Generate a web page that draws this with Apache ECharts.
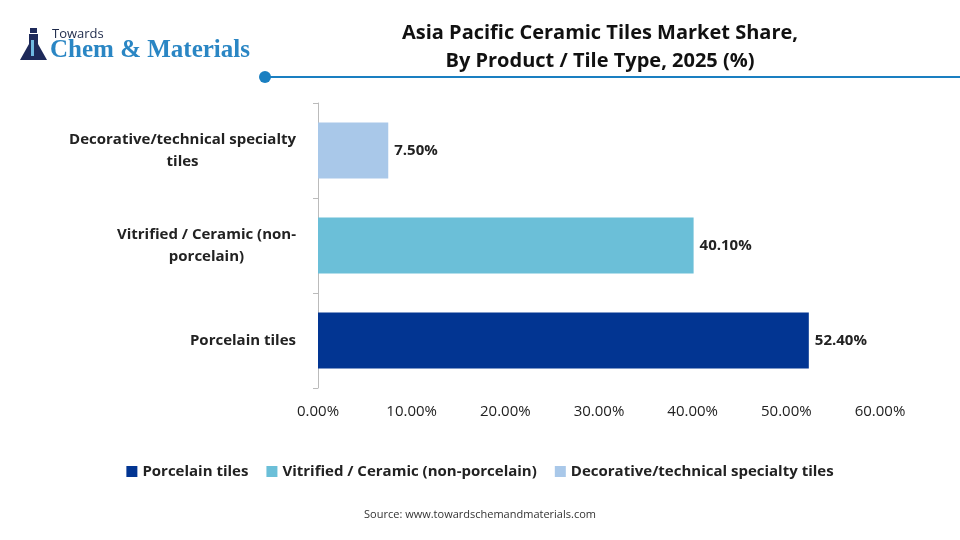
<!DOCTYPE html>
<html><head><meta charset="utf-8">
<script src="https://cdn.jsdelivr.net/npm/echarts@6/dist/echarts.min.js"></script>
<style>html,body{margin:0;padding:0;background:#fff}#c{width:960px;height:540px}</style>
</head><body><div id="c"></div>
<script>
const categories = ['Porcelain tiles', 'Vitrified / Ceramic (non-porcelain)', 'Decorative/technical specialty tiles'];
const axisLabels = ['Porcelain tiles', 'Vitrified / Ceramic (non-\nporcelain)', 'Decorative/technical specialty\ntiles'];
const values = [52.4, 40.1, 7.5];
const colors = ['#023592', '#6bbfd8', '#a9c8e9'];

const chart = echarts.init(document.getElementById('c'));
const series = categories.map((name, i) => ({
  name, type: 'bar', stack: 'a', barWidth: 56,
  itemStyle: { color: colors[i] },
  data: values.map((v, j) => j === i ? v : null),
  label: { show: true, position: 'right', distance: 6, formatter: p => p.value.toFixed(2) + '%',
    fontFamily: 'Open Sans', fontWeight: 'bold', fontSize: 15, color: '#222' }
}));
const lblStyle = { fontFamily: 'Open Sans', fontWeight: 'bold', fontSize: 15, color: '#222', lineHeight: 22, align: 'center' };
chart.setOption({
  animation: false,
  title: { text: 'Asia Pacific Ceramic Tiles Market Share,\nBy Product / Tile Type, 2025 (%)', left: 595, top: 14, textAlign: 'center',
    textStyle: { fontFamily: 'Open Sans', fontWeight: 'bold', fontSize: 20, lineHeight: 28, color: '#111' } },
  grid: { left: 318, right: 80, top: 103, bottom: 152 },
  xAxis: { type: 'value', min: 0, max: 60, interval: 10, splitLine: { show: false },
    axisLine: { show: false }, axisTick: { show: false },
    axisLabel: { formatter: v => v.toFixed(2) + '%', fontFamily: 'Open Sans', fontSize: 15, color: '#222', margin: 16 } },
  yAxis: { type: 'category', data: axisLabels,
    axisLine: { show: true, lineStyle: { color: '#bbb' } },
    axisTick: { show: true, length: 5, lineStyle: { color: '#bbb' } },
    axisLabel: { formatter: v => v.split('\n').map(s => '{c|' + s + '}').join('\n'),
      rich: { c: lblStyle }, fontFamily: 'Open Sans', fontWeight: 'bold', fontSize: 15, color: '#222', margin: 22, lineHeight: 22 } },
  legend: { bottom: 56, left: 'center', itemWidth: 11, itemHeight: 11, itemGap: 18, icon: 'rect',
    textStyle: { fontFamily: 'Open Sans', fontWeight: 'bold', fontSize: 15, color: '#222' } },
  series,
  graphic: [
    { type: 'text', left: 'center', top: 509, style: { text: 'Source: www.towardschemandmaterials.com', font: '11px "Open Sans"', fill: '#333' } },
    { type: 'line', shape: { x1: 265, y1: 77, x2: 960, y2: 77 }, style: { stroke: '#1a7fc1', lineWidth: 2 } },
    { type: 'circle', shape: { cx: 265, cy: 77, r: 6 }, style: { fill: '#1a7fc1' } },
    { type: 'text', left: 52, top: 28, style: { text: 'Towards', font: '13px "Open Sans"', fill: '#1e2a4a' } },
    { type: 'text', left: 50, top: 38, style: { text: 'Chem & Materials', font: 'bold 25px "Liberation Serif"', fill: '#2a86c4' } },
    { type: 'rect', shape: { x: 30, y: 28, width: 7, height: 5 }, style: { fill: '#1e2a5a' } },
    { type: 'polygon', shape: { points: [[29,34],[38,34],[38,44],[47,60],[20,60],[29,44]] }, style: { fill: '#1e2a5a' } },
    { type: 'rect', shape: { x: 31, y: 40, width: 3, height: 16 }, style: { fill: '#6fb8e0' } }
  ]
});
</script></body></html>
